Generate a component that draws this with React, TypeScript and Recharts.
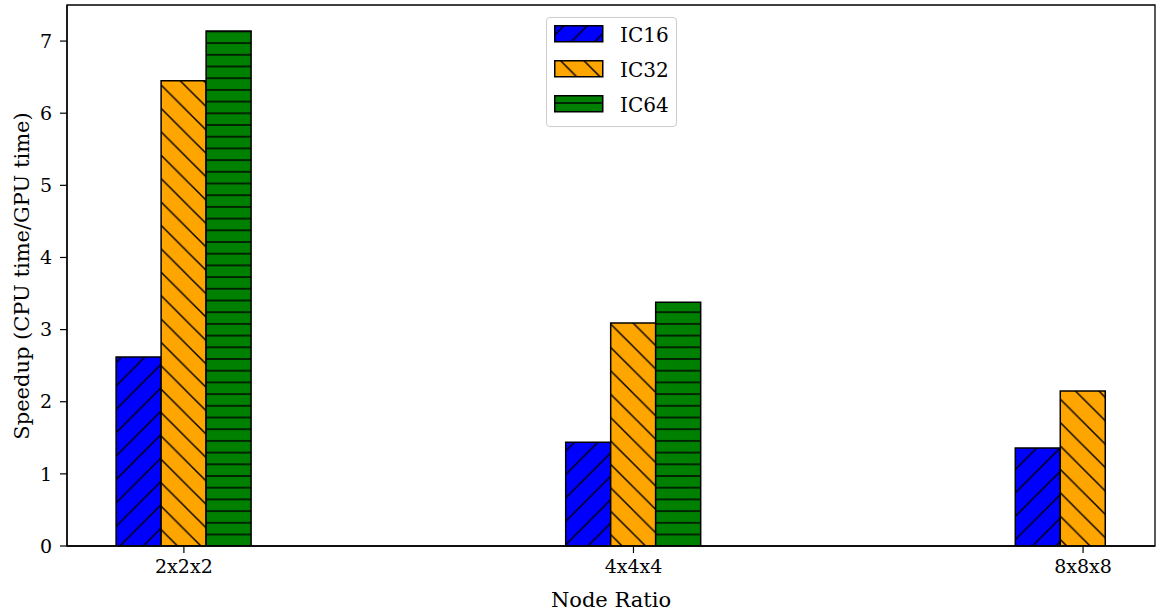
import React from "react"
import { BarChart, Bar, XAxis, YAxis, ReferenceArea, Label } from "recharts"

const categories = ["2x2x2", "4x4x4", "8x8x8"]
const positions = [0, 1, 2]
const ic16 = [2.62, 1.44, 1.36]
const ic32 = [6.45, 3.09, 2.15]
const ic64: (number | null)[] = [7.14, 3.38, null]
const yTicks = [0, 1, 2, 3, 4, 5, 6, 7]

const seriesNames = ["IC16", "IC32", "IC64"]
const seriesKeys = ["ic16", "ic32", "ic64"]
const seriesFills = ["url(#hatch-ic16)", "url(#hatch-ic32)", "url(#hatch-ic64)"]

const FONT = "'DejaVu Serif', serif"
const W = 1156
const H = 611

const rows = positions.map((x, i) => ({
  x,
  name: categories[i],
  ic16: ic16[i],
  ic32: ic32[i],
  ic64: ic64[i],
}))

// matplotlib-like hatches: "/", "\" and "-"
function HatchDefs({ phase = true }: { phase?: boolean }) {
  const d = 23.4
  const h = 11.7
  return (
    <defs>
      <pattern
        id="hatch-ic16"
        patternUnits="userSpaceOnUse"
        width={d}
        height={d}
        patternTransform={phase ? "translate(10.6,0)" : undefined}
      >
        <rect width={d} height={d} fill="#0000ff" />
        <path
          d={`M-3,3 L3,-3 M0,${d} L${d},0 M${d - 3},${d + 3} L${d + 3},${d - 3}`}
          stroke="#000"
          strokeWidth={1.4}
        />
      </pattern>
      <pattern
        id="hatch-ic32"
        patternUnits="userSpaceOnUse"
        width={d}
        height={d}
        patternTransform={phase ? "translate(5.9,0)" : undefined}
      >
        <rect width={d} height={d} fill="#ffa500" />
        <path
          d={`M-3,${d - 3} L3,${d + 3} M0,0 L${d},${d} M${d - 3},-3 L${d + 3},3`}
          stroke="#000"
          strokeWidth={1.4}
        />
      </pattern>
      <pattern
        id="hatch-ic64"
        patternUnits="userSpaceOnUse"
        width={h}
        height={h}
        patternTransform={phase ? "translate(0,2.15)" : undefined}
      >
        <rect width={h} height={h} fill="#008000" />
        <path d={`M-1,${h / 2} L${h + 1},${h / 2}`} stroke="#000" strokeWidth={1.4} />
      </pattern>
    </defs>
  )
}

function XTitle() {
  return (
    <text x={611} y={606.5} textAnchor="middle" fontFamily={FONT} fontSize={21} fill="#000">
      Node Ratio
    </text>
  )
}

function YTitle() {
  return (
    <text
      x={28.5}
      y={276}
      transform="rotate(-90, 28.5, 276)"
      textAnchor="middle"
      fontFamily={FONT}
      fontSize={21}
      fill="#000"
    >
      Speedup (CPU time/GPU time)
    </text>
  )
}

function LegendBox() {
  return (
    <div
      style={{
        position: "absolute",
        left: 546,
        top: 17,
        width: 129,
        height: 108,
        border: "1px solid #cccccc",
        borderRadius: 4,
        background: "rgba(255,255,255,0.8)",
        fontFamily: FONT,
        fontSize: 20,
        color: "#000",
      }}
    >
      {seriesNames.map((name, i) => (
        <div
          key={name}
          style={{ position: "absolute", left: 7, top: 7.5 + i * 35, height: 17, display: "flex", alignItems: "center" }}
        >
          <svg width={50} height={18} style={{ display: "block" }}>
            <rect x={0.75} y={0.75} width={48} height={16} fill={seriesFills[i]} stroke="#000" strokeWidth={1.5} />
          </svg>
          <span style={{ position: "absolute", left: 66, top: -4, lineHeight: "26px", whiteSpace: "nowrap" }}>{name}</span>
        </div>
      ))}
    </div>
  )
}

export default function App() {
  const tickStyle = { fontFamily: FONT, fontSize: 19, fill: "#000" }
  return (
    <div style={{ position: "absolute", left: 0, top: 0, width: W, height: H, background: "#fff" }}>
      <BarChart
        width={W}
        height={H}
        data={rows}
        margin={{ top: 5, right: 1, bottom: 0, left: 0 }}
        barSize={45}
        barGap={0}
      >
        <HatchDefs />
        <XAxis
          type="number"
          dataKey="x"
          domain={[-0.26, 2.16]}
          ticks={positions}
          tickFormatter={(v: number) => categories[Math.round(v)]}
          allowDataOverflow
          height={65}
          tickSize={7}
          tickMargin={7}
          tick={tickStyle}
          axisLine={{ stroke: "#000", strokeWidth: 1.3 }}
          tickLine={{ stroke: "#000", strokeWidth: 1.2 }}
          interval={0}
          label={<Label content={() => <XTitle />} />}
        />
        <YAxis
          type="number"
          domain={[0, 7.5]}
          ticks={yTicks}
          allowDataOverflow
          width={67}
          tickSize={7}
          tickMargin={8}
          tick={tickStyle}
          axisLine={{ stroke: "#000", strokeWidth: 1.3 }}
          tickLine={{ stroke: "#000", strokeWidth: 1.2 }}
          interval={0}
          label={<Label content={() => <YTitle />} />}
        />
        {seriesKeys.map((key, i) => (
          <Bar
            key={key}
            dataKey={key}
            name={seriesNames[i]}
            fill={seriesFills[i]}
            stroke="#000"
            strokeWidth={1.5}
            isAnimationActive={false}
          />
        ))}
        <ReferenceArea
          x1={-0.26}
          x2={2.16}
          y1={0}
          y2={7.5}
          fill="none"
          fillOpacity={0}
          stroke="#000"
          strokeWidth={1.3}
          ifOverflow="visible"
        />
      </BarChart>
      <LegendBox />
    </div>
  )
}
